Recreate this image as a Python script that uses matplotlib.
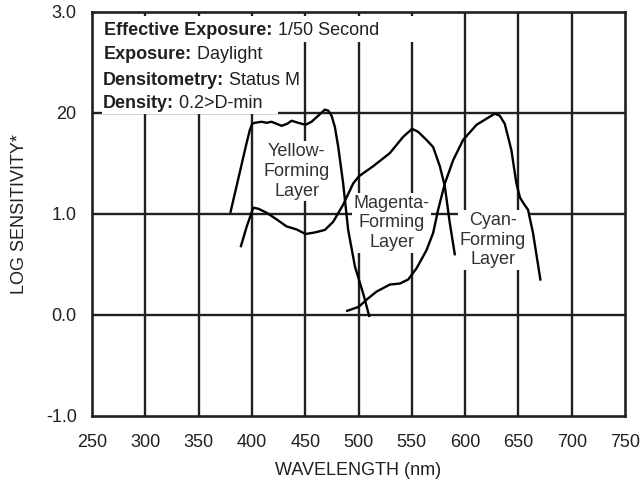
import matplotlib
matplotlib.use('Agg')
import matplotlib.pyplot as plt
from matplotlib.patches import Rectangle

plt.rcParams['font.family'] = ['Liberation Sans', 'DejaVu Sans']

# wavelength (nm) / log sensitivity
yellow_wl = [380, 395, 398.1, 400.3, 402.8, 409.1, 413.8, 418.4, 423.1, 427.8, 433.1, 437.2,
             443.4, 450.3, 455.9, 461.2, 468.4, 471.6, 474.7, 477.8, 481, 485.6, 490.3,
             496.6, 504.4, 510]
yellow_ls = [1.02, 1.70, 1.83, 1.89, 1.90, 1.91, 1.90, 1.91, 1.89, 1.87, 1.89, 1.92,
             1.90, 1.88, 1.91, 1.96, 2.03, 2.02, 1.97, 1.86, 1.66, 1.30, 0.84,
             0.48, 0.21, -0.01]

magenta_wl = [389.7, 395, 401.3, 406, 413.8, 423.1, 432.5, 441.9, 450.3, 459, 468.4, 476.2,
              485.6, 495, 500.3, 513.7, 529.4, 541.8, 550.3, 556, 563.8, 570, 576.3,
              581, 585.6, 590.3]
magenta_ls = [0.68, 0.87, 1.06, 1.05, 1.01, 0.945, 0.875, 0.845, 0.80, 0.815, 0.84, 0.92,
              1.09, 1.30, 1.37, 1.47, 1.60, 1.76, 1.84, 1.81, 1.73, 1.66, 1.47,
              1.27, 0.91, 0.60]

cyan_wl = [489.4, 500.3, 507.5, 516.9, 529.4, 538.8, 546.6, 554.4, 563.8, 570, 574.7, 581,
           588.8, 598.1, 610.7, 620, 627.8, 632.5, 637.2, 643.4, 648.1, 651.5, 655,
           659, 663.7, 670.6]
cyan_ls = [0.04, 0.08, 0.15, 0.23, 0.30, 0.31, 0.35, 0.46, 0.64, 0.81, 1.04, 1.30,
           1.53, 1.73, 1.88, 1.94, 1.99, 1.97, 1.89, 1.63, 1.30, 1.16, 1.10,
           1.04, 0.81, 0.35]

x_ticks = [250, 300, 350, 400, 450, 500, 550, 600, 650, 700, 750]
y_ticks = [-1.0, 0.0, 1.0, 2.0, 3.0]
y_tick_labels = ['-1.0', '0.0', '1.0', '20', '3.0']

info_bold = ['Effective Exposure:', 'Exposure:', 'Densitometry:', 'Density:']
info_text = [' 1/50 Second', ' Daylight', ' Status M', ' 0.2>D-min']

layer_labels = ['Yellow-\nForming\nLayer', 'Magenta-\nForming\nLayer', 'Cyan-\nForming\nLayer']
layer_pos = [(442, 1.42), (531, 0.91), (626, 0.74)]

ink = '#231f20'
fs = 13

fig = plt.figure(figsize=(6.44, 4.82), dpi=100)
ax = fig.add_axes([0.1429, 0.137, 0.8276, 0.839])
ax.set_xlim(250, 750)
ax.set_ylim(-1, 3)

# grid
for x in x_ticks[1:-1]:
    ax.axvline(x, color=ink, lw=1.7, zorder=1)
for y in y_ticks[1:-1]:
    ax.axhline(y, color=ink, lw=1.7, zorder=1)

# white background behind the info block
ax.add_patch(Rectangle((251, 2.70), 309, 0.255, facecolor='white', edgecolor='none', zorder=2))
ax.add_patch(Rectangle((259, 1.985), 165, 0.72, facecolor='white', edgecolor='none', zorder=2))

for sp in ax.spines.values():
    sp.set_linewidth(1.9)
    sp.set_color(ink)
    sp.set_zorder(5)

ax.plot(yellow_wl, yellow_ls, color='black', lw=1.7, zorder=4)
ax.plot(magenta_wl, magenta_ls, color='black', lw=1.7, zorder=4)
ax.plot(cyan_wl, cyan_ls, color='black', lw=1.7, zorder=4)

for lab, (x, y) in zip(layer_labels, layer_pos):
    ax.text(x, y, lab, ha='center', va='center', fontsize=fs, color='#333333', linespacing=1.22,
            zorder=3, bbox=dict(boxstyle='square,pad=0.1', fc='white', ec='none'))

info_y = [2.815, 2.58, 2.32, 2.095]
info_x = [261.5, 261, 260, 260]
for b, t, x, y in zip(info_bold, info_text, info_x, info_y):
    tb = ax.text(x, y, b, ha='left', va='center', fontsize=fs, fontweight='bold', color=ink, zorder=3)
    ax.annotate(t, xy=(1, 0.5), xycoords=tb, ha='left', va='center', fontsize=fs, color=ink,
                zorder=3)

ax.set_xticks(x_ticks)
ax.set_yticks(y_ticks)
ax.set_yticklabels(y_tick_labels)
ax.tick_params(length=0, labelsize=fs, colors=ink)
ax.tick_params(axis='x', pad=13)
ax.tick_params(axis='y', pad=11)
ax.set_xlabel('WAVELENGTH (nm)', fontsize=fs, color=ink, labelpad=8)
ax.set_ylabel('LOG SENSITIVITY*', fontsize=fs, color=ink, labelpad=13)

fig.savefig('out.png', dpi=100)
